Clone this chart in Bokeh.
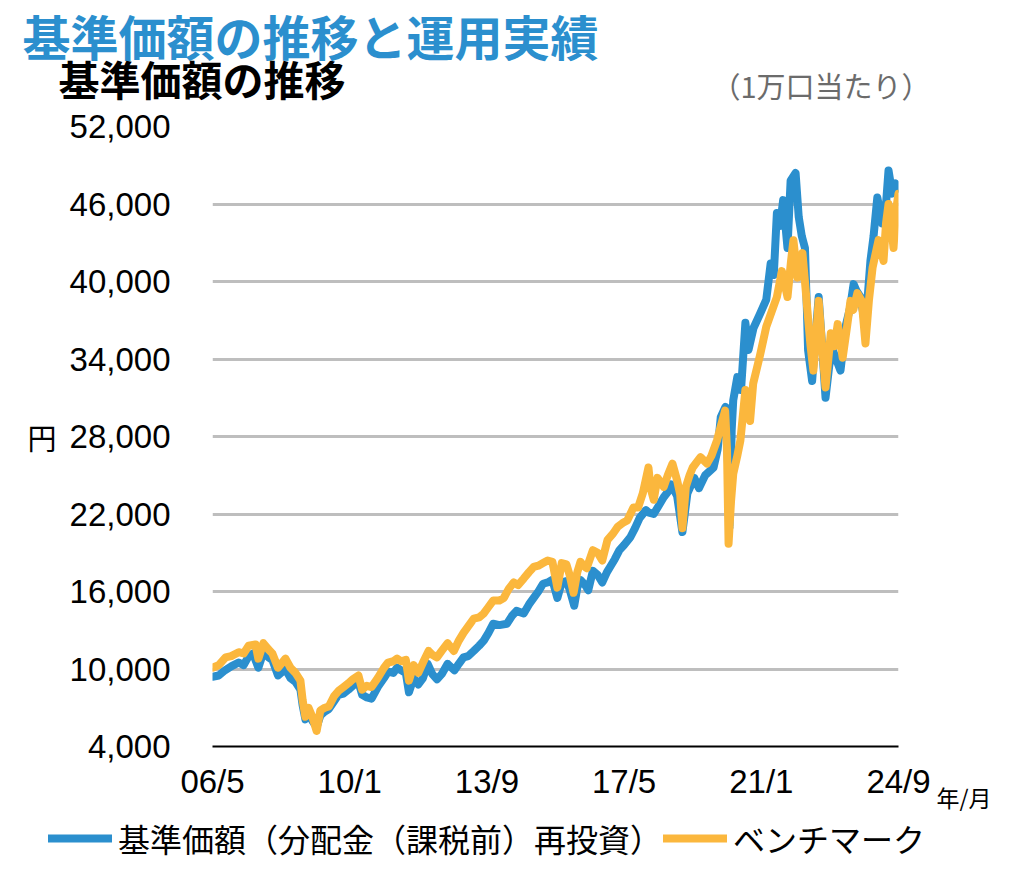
from bokeh.plotting import figure
from bokeh.models import (FixedTicker, NumeralTickFormatter, Legend, LegendItem, Range1d, Title)
from bokeh.layouts import column, row
from bokeh.core.properties import value
from bokeh.embed import file_html
from bokeh.resources import INLINE

# ---- data (months since 2006/5) ----
fund_month = [0, 2, 4, 6, 8.4, 10, 11.6, 13, 14.7, 16.3, 18, 19.2, 21, 23.4, 25, 26.6, 28.2, 28.9, 29.8, 30.8,
              32, 33.4, 34.6, 36, 37.3, 39, 40.4, 42, 43.6, 45, 46.8, 48, 49.5, 51, 53, 55, 56.3, 58, 59.2, 60.5,
              62, 63, 64.5, 66, 67.5, 69, 70.5, 72, 73.5, 75.4, 77.6, 79, 80.5, 82, 83.8, 85.5, 87, 88.5, 90, 92,
              94.4, 96, 97.5, 99.8, 101.5, 103, 104.5, 106, 107.5, 109, 110.6, 112, 113.5, 114.5, 116, 117, 118,
              119.5, 120.5, 122, 123.5, 125, 126.5, 127.5, 129, 130.5, 132, 134, 135.5, 137, 139, 140, 141.5, 143,
              144.7, 146, 147, 149, 150.7, 152.3, 154.5, 156, 158, 160.7, 162, 163, 164.5, 165.3, 165.8, 166.5,
              167, 168.3, 169.5, 170.9, 171.9, 173.5, 175.6, 177.6, 179, 180, 181, 182, 183, 184.4, 185.4, 187,
              188, 189, 190, 190.6, 191, 192.3, 193.3, 194.4, 195.5, 196.6, 197.8, 198.9, 200, 201.4, 203, 204.5,
              205.6, 206.5, 207.8, 209.4, 211, 212, 213.2, 214.8, 216, 216.8, 218, 219, 220]
fund_nav = [9400, 9500, 9900, 10200, 10500, 10300, 11000, 11200, 10100, 11300, 10900, 10700, 9500, 10000, 9300,
            9000, 8400, 7200, 6100, 6700, 6000, 5500, 6400, 6700, 6900, 7500, 8000, 8100, 8400, 8700, 9000, 8000,
            7800, 7700, 8600, 9300, 9800, 9700, 10100, 9900, 9700, 8200, 9300, 8800, 9300, 10400, 9600, 9200,
            9600, 10400, 9900, 10400, 10900, 11000, 11400, 11800, 12200, 12800, 13500, 13400, 13500, 14100, 14500,
            14300, 15000, 15500, 16000, 16600, 16700, 16900, 15500, 16700, 16800, 16200, 14900, 16300, 16900,
            16500, 16100, 17600, 17300, 16700, 17500, 17900, 18500, 19200, 19600, 20200, 20900, 21700, 22300,
            22100, 22000, 22600, 23300, 23700, 24300, 23400, 20600, 23600, 24800, 24000, 25000, 25600, 27000,
            29500, 30300, 26000, 21000, 28500, 30800, 32600, 31600, 36800, 34700, 36400, 37500, 38600, 41400,
            40500, 45300, 44300, 46300, 42600, 47800, 48400, 45000, 43500, 42600, 38000, 34700, 32300, 35500,
            38800, 35000, 31000, 33500, 34700, 34000, 33100, 36500, 38000, 39800, 39300, 38800, 36500, 41600,
            43500, 46500, 44500, 46000, 48600, 46800, 47600, 47200]

bench_month = [0, 2, 4.2, 6, 8.4, 10, 11.6, 13.8, 14.7, 16.3, 18, 19.2, 21, 23.4, 25, 26.6, 28.2, 28.9, 29.8,
               30.8, 32, 33.4, 34.6, 36, 37.3, 39, 40.4, 42, 43.6, 45, 46.8, 48, 49.5, 51, 53, 55, 56.3, 58, 59.2,
               60.5, 62, 63, 64.5, 66, 67.5, 69.3, 70.5, 72, 73.5, 75.4, 77.4, 79, 80.5, 82, 83.8, 85.5, 87, 88.5,
               90, 92, 93.4, 95, 96.6, 98, 99.8, 101.5, 103, 104.5, 106, 107.5, 109, 110.6, 112, 113.5, 114.5,
               115.8, 117, 118, 119, 120, 122, 123.5, 125, 126.7, 128.5, 129.9, 131.5, 133, 135, 136.5, 138, 139.8,
               140.5, 141.5, 142.7, 144.7, 146, 147.5, 149, 150, 150.7, 151.8, 153, 154, 156.5, 158.6, 160, 161.8,
               163, 164.4, 165, 165.5, 166.3, 167, 168.3, 169.3, 170.9, 172.4, 173.4, 175.6, 177.6, 179.8, 181,
               182.6, 184.4, 185.5, 186.3, 187.6, 189.2, 190, 190.8, 191.8, 192.7, 193.5, 194.4, 195.5, 196.6,
               197.5, 198.3, 199.5, 200.5, 202.1, 203.5, 204.6, 205.5, 206.8, 208.2, 209.4, 210.5, 211.7, 213.6,
               215.2, 216, 216.8, 217.6, 218.4, 219.2, 220]
bench_val = [10100, 10300, 10900, 11000, 11300, 11200, 11800, 11900, 10800, 12000, 11500, 11200, 10100, 10800,
             10100, 9700, 9100, 7600, 6300, 7000, 6300, 5200, 6800, 7000, 7100, 7900, 8300, 8600, 8900, 9200, 9500,
             8400, 8700, 8600, 9300, 10100, 10500, 10600, 10800, 10600, 10700, 9100, 10300, 9700, 10500, 11400,
             11100, 10900, 11400, 12000, 11400, 12200, 12800, 13300, 13900, 14000, 14300, 14800, 15300, 15300,
             15500, 16200, 16700, 16500, 17000, 17500, 17900, 18000, 18200, 18400, 18300, 16300, 18200, 18100,
             17300, 15900, 17500, 18300, 18000, 17800, 19200, 19000, 18400, 20000, 20500, 21000, 21300, 21500,
             22500, 22500, 23600, 25600, 24000, 23100, 24800, 24100, 25000, 25900, 24600, 23500, 20900, 24100,
             25000, 25600, 26400, 25900, 26500, 27700, 28800, 30000, 27000, 19700, 23000, 25100, 26500, 27700,
             31600, 29200, 32100, 34300, 36500, 38000, 38800, 40800, 38800, 41500, 43200, 40300, 42200, 40000,
             37700, 35000, 33100, 35500, 38500, 35000, 31800, 34000, 36000, 35000, 36700, 34100, 36500, 38500,
             37800, 39100, 38500, 35200, 38500, 41100, 43200, 41600, 44500, 46000, 44500, 42600, 45500, 46800]

x_ticks = [0, 44, 88, 132, 176, 220]
x_tick_labels = ["06/5", "10/1", "13/9", "17/5", "21/1", "24/9"]
y_ticks = [4000, 10000, 16000, 22000, 28000, 34000, 40000, 46000, 52000]

title_main = "基準価額の推移と運用実績"
title_sub = "基準価額の推移"
unit_text = "（1万口当たり）"
y_unit = "円"
x_unit = "年/月"
series_names = ["基準価額（分配金（課税前）再投資）", "ベンチマーク"]

BLUE = "#2B8FCE"
ORANGE = "#FBB73D"
JP = "Noto Sans CJK JP"


def blank_fig(w, h):
    f = figure(width=w, height=h, output_backend="svg", toolbar_location=None, title=None,
               x_range=Range1d(0, w), y_range=Range1d(h, 0),
               x_axis_type=None, y_axis_type=None,
               min_border_left=0, min_border_right=0, min_border_top=0, min_border_bottom=0)
    f.grid.visible = False
    f.outline_line_color = None
    f.background_fill_color = "white"
    f.border_fill_color = "white"
    return f


# ---- header strip ----
HEAD_H = 107
MAIN_BOTTOM = 813
head = blank_fig(1024, HEAD_H)
head.text(x=[22], y=[34], text=[title_main], text_font=value(JP), text_font_size="48px",
          text_font_style="bold", text_color=BLUE, text_baseline="middle", text_align="left")
head.text(x=[58], y=[77], text=[title_sub], text_font=value(JP), text_font_size="41px",
          text_font_style="bold", text_color="black", text_baseline="middle", text_align="left")
head.text(x=[711], y=[84], text=[unit_text], text_font=value(JP), text_font_size="29px",
          text_color="#6B6B6B", text_baseline="middle", text_align="left")

# ---- main chart ----
p = figure(width=1024, height=MAIN_BOTTOM - HEAD_H, output_backend="svg", toolbar_location=None, title=None,
           x_range=Range1d(0, 220), y_range=Range1d(4000, 52000),
           min_border_left=212, min_border_right=126, min_border_top=126 - HEAD_H,
           min_border_bottom=MAIN_BOTTOM - 746)
p.outline_line_color = None
p.background_fill_color = "white"
p.border_fill_color = "white"

p.line(fund_month, fund_nav, line_color=BLUE, line_width=8, line_join="round", line_cap="round")
p.line(bench_month, bench_val, line_color=ORANGE, line_width=8, line_join="round", line_cap="round")

p.xgrid.visible = False
p.ygrid.ticker = FixedTicker(ticks=y_ticks)
p.ygrid.grid_line_color = "#BEBEBE"
p.ygrid.grid_line_width = 3

ya = p.yaxis[0]
ya.ticker = FixedTicker(ticks=y_ticks)
ya.formatter = NumeralTickFormatter(format="0,0")
ya.axis_line_color = None
ya.major_tick_line_color = None
ya.minor_tick_line_color = None
ya.major_label_standoff = 36
ya.major_label_text_font = "Liberation Sans"
ya.major_label_text_font_size = "33px"
ya.major_label_text_color = "black"
ya.axis_label = y_unit
ya.axis_label_orientation = "horizontal"
ya.axis_label_standoff = 10
ya.axis_label_text_font = JP
ya.axis_label_text_font_size = "29px"
ya.axis_label_text_font_style = "normal"
ya.axis_label_text_color = "black"

xa = p.xaxis[0]
xa.ticker = FixedTicker(ticks=x_ticks)
xa.major_label_overrides = {t: s for t, s in zip(x_ticks, x_tick_labels)}
xa.axis_line_color = "black"
xa.axis_line_width = 2
xa.major_tick_line_color = None
xa.minor_tick_line_color = None
xa.major_label_standoff = 10
xa.major_label_text_font = "Liberation Sans"
xa.major_label_text_font_size = "33px"
xa.major_label_text_color = "black"

# x unit as a small title in the panel under the x axis
unit_title = Title(text=x_unit, align="left", offset=724, text_font=JP, text_font_size="23px",
                   text_font_style="normal", text_color="black", vertical_align="top")
try:
    unit_title.standoff = -46
except Exception:
    unit_title.standoff = 0
p.add_layout(unit_title, "below")

# ---- legend strip ----
LEG_H = 877 - MAIN_BOTTOM
leg = blank_fig(1024, LEG_H)
lr1 = leg.line(x=[-60, -50], y=[-60, -60], line_color=BLUE, line_width=8, line_cap="round")
lr2 = leg.line(x=[-60, -50], y=[-60, -60], line_color=ORANGE, line_width=8, line_cap="round")
legend = Legend(items=[LegendItem(label=series_names[0], renderers=[lr1]),
                       LegendItem(label=series_names[1], renderers=[lr2])],
                orientation="horizontal", location=(48, 16),
                glyph_width=64, glyph_height=30, label_standoff=6, spacing=1,
                padding=0, margin=0, border_line_color=None, background_fill_alpha=0,
                label_text_font=JP, label_text_font_size="32px", label_text_color="black")
leg.add_layout(legend, "center")

layout = column(head, row(p, spacing=0), leg, spacing=0)
open("out.html", "w").write(file_html(layout, INLINE))
